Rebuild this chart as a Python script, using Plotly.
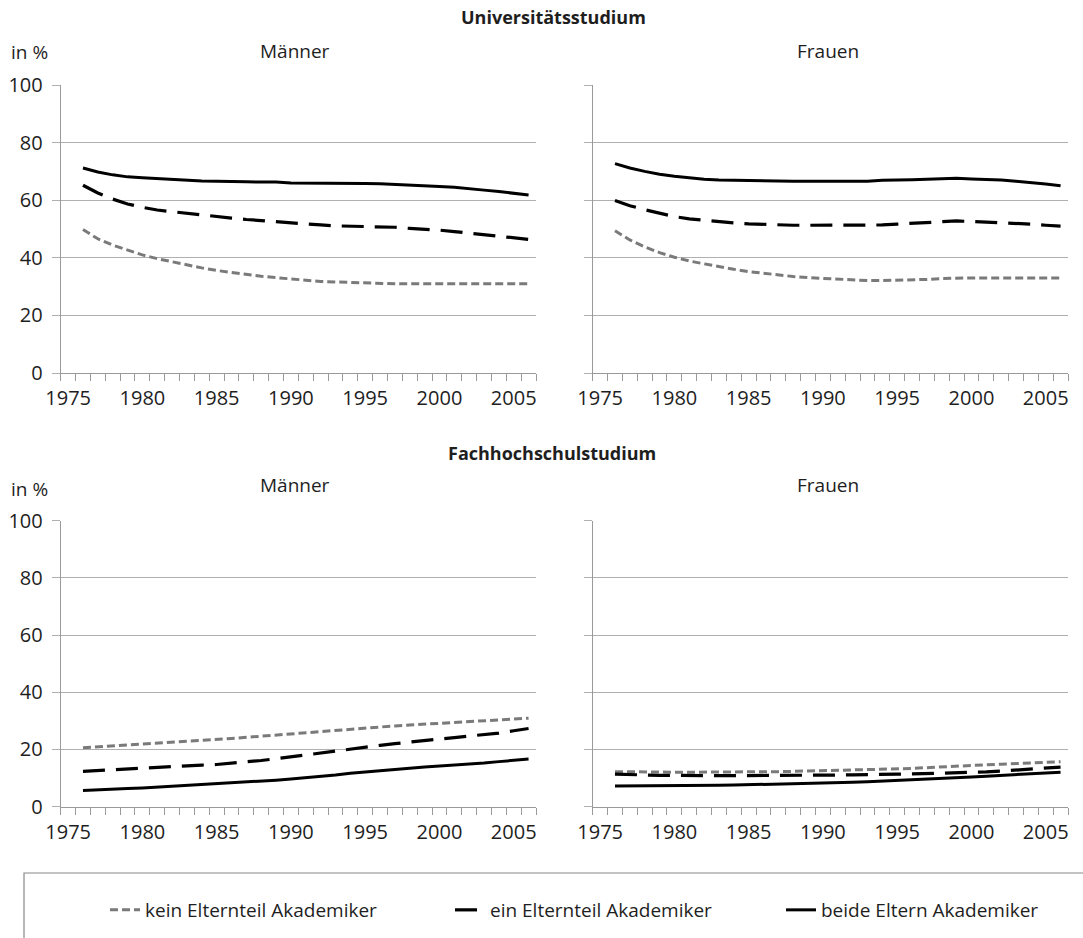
import plotly.graph_objects as go

years = list(range(1976, 2007))

series_names = ["kein Elternteil Akademiker", "ein Elternteil Akademiker", "beide Eltern Akademiker"]

uni_m_kein = [49.8, 46.6, 44.4, 42.6, 41.0, 39.7, 38.6, 37.5, 36.5, 35.6, 34.9, 34.2, 33.6, 33.1, 32.6, 32.2,
              31.8, 31.6, 31.4, 31.3, 31.1, 31.0, 31.0, 31.0, 31.0, 31.0, 31.0, 31.0, 31.0, 31.0, 31.0]
uni_m_ein = [65.2, 62.5, 60.4, 58.7, 57.5, 56.6, 56.0, 55.4, 54.8, 54.2, 53.8, 53.3, 52.9, 52.4, 52.0, 51.7,
             51.4, 51.1, 51.0, 50.9, 50.8, 50.6, 50.2, 50.0, 49.6, 49.1, 48.6, 48.0, 47.4, 46.9, 46.4]
uni_m_beide = [71.2, 69.8, 68.8, 68.1, 67.8, 67.5, 67.2, 67.0, 66.7, 66.6, 66.6, 66.4, 66.3, 66.3, 66.0, 66.0,
               66.0, 65.8, 65.8, 65.8, 65.7, 65.5, 65.4, 65.1, 64.8, 64.5, 64.1, 63.5, 63.0, 62.4, 61.8]

uni_f_kein = [49.4, 46.2, 43.8, 41.8, 40.2, 38.9, 37.9, 36.9, 36.0, 35.2, 34.6, 34.0, 33.5, 33.1, 32.8, 32.5,
              32.2, 32.1, 32.1, 32.2, 32.3, 32.5, 32.8, 33.0, 33.0, 33.0, 33.0, 33.0, 33.0, 33.0, 33.0]
uni_f_ein = [59.9, 58.1, 56.7, 55.4, 54.3, 53.5, 53.0, 52.5, 52.1, 51.8, 51.6, 51.4, 51.3, 51.3, 51.3, 51.3,
             51.3, 51.3, 51.4, 51.7, 52.0, 52.3, 52.6, 52.8, 52.6, 52.4, 52.2, 52.0, 51.7, 51.3, 51.0]
uni_f_beide = [72.7, 71.2, 70.0, 69.0, 68.3, 67.7, 67.3, 67.0, 66.9, 66.7, 66.6, 66.6, 66.6, 66.6, 66.6, 66.6,
               66.6, 66.6, 66.9, 66.9, 67.1, 67.3, 67.5, 67.6, 67.4, 67.3, 67.0, 66.6, 66.2, 65.6, 65.0]

fh_m_kein = [20.6, 20.9, 21.3, 21.7, 22.0, 22.3, 22.6, 22.9, 23.2, 23.5, 23.8, 24.2, 24.6, 25.1, 25.6, 26.0,
             26.3, 26.7, 27.2, 27.6, 27.9, 28.2, 28.5, 28.8, 29.2, 29.5, 29.8, 30.1, 30.4, 30.7, 30.9]
fh_m_ein = [12.3, 12.6, 12.9, 13.2, 13.5, 13.8, 14.1, 14.3, 14.5, 14.7, 15.1, 15.6, 16.1, 16.7, 17.4, 18.1,
            18.8, 19.5, 20.2, 20.8, 21.4, 22.0, 22.6, 23.1, 23.6, 24.1, 24.6, 25.1, 25.7, 26.5, 27.3]
fh_m_beide = [5.6, 5.9, 6.1, 6.3, 6.5, 6.8, 7.0, 7.3, 7.5, 7.8, 8.1, 8.4, 8.8, 9.2, 9.6, 10.0,
              10.5, 11.0, 11.6, 12.1, 12.6, 13.0, 13.4, 13.8, 14.1, 14.4, 14.8, 15.2, 15.7, 16.2, 16.6]

fh_f_kein = [12.2, 12.1, 12.0, 12.0, 12.0, 12.0, 12.0, 12.0, 12.0, 12.0, 12.1, 12.2, 12.3, 12.4, 12.5, 12.6,
             12.7, 12.8, 12.9, 13.0, 13.3, 13.6, 13.9, 14.1, 14.3, 14.6, 14.8, 15.0, 15.3, 15.5, 15.7]
fh_f_ein = [11.3, 11.1, 11.0, 10.9, 10.9, 10.8, 10.8, 10.8, 10.8, 10.8, 10.8, 10.8, 10.9, 10.9, 11.0, 11.0,
            11.1, 11.1, 11.2, 11.3, 11.4, 11.5, 11.6, 11.8, 11.9, 12.1, 12.4, 12.7, 13.1, 13.5, 13.8]
fh_f_beide = [7.2, 7.2, 7.2, 7.2, 7.2, 7.2, 7.3, 7.4, 7.5, 7.6, 7.7, 7.8, 7.9, 8.0, 8.2, 8.3,
              8.5, 8.7, 8.9, 9.1, 9.3, 9.5, 9.8, 10.0, 10.3, 10.6, 10.9, 11.2, 11.5, 11.8, 12.0]

x_tick_vals = [1975, 1980, 1985, 1990, 1995, 2000, 2005]
x_tick_text = ["1975", "1980", "1985", "1990", "1995", "2000", "2005"]
y_tick_vals = [0, 20, 40, 60, 80, 100]

W, H = 1083, 938
FONT = "Open Sans"
TXT = "#1e1e1e"
GRID = "#b0b0b0"
AXL = "#9a9a9a"

styles = [
    dict(color="#7a7a7a", width=3, dash="8px,4px"),
    dict(color="#000000", width=3.2, dash="22px,11px"),
    dict(color="#000000", width=3, dash="solid"),
]
legend_ids = ["legend", "legend2", "legend3"]
legend_text_x = [142, 487, 818]

panels = [
    ("x", "y", [uni_m_kein, uni_m_ein, uni_m_beide], (60.7, 536), (85, 373)),
    ("x2", "y2", [uni_f_kein, uni_f_ein, uni_f_beide], (592.7, 1068), (85, 373)),
    ("x3", "y3", [fh_m_kein, fh_m_ein, fh_m_beide], (60.7, 536), (520.7, 806.5)),
    ("x4", "y4", [fh_f_kein, fh_f_ein, fh_f_beide], (592.7, 1068), (520.7, 806.5)),
]

fig = go.Figure()
layout = {}
for pi, (xa, ya, data, xd, yd) in enumerate(panels):
    for si, vals in enumerate(data):
        fig.add_trace(go.Scatter(
            x=years, y=vals, mode="lines", name=series_names[si],
            line=styles[si], xaxis=xa, yaxis=ya, hoverinfo="skip",
            showlegend=(pi == 0), legend=legend_ids[si],
        ))
    xkey = "xaxis" if xa == "x" else "xaxis" + xa[1:]
    ykey = "yaxis" if ya == "y" else "yaxis" + ya[1:]
    layout[xkey] = dict(
        domain=[xd[0] / W, xd[1] / W], anchor=ya, range=[1974.5, 2006.5],
        tickmode="array", tickvals=x_tick_vals, ticktext=x_tick_text,
        ticks="outside", ticklen=7, tickcolor="rgba(0,0,0,0)",
        minor=dict(ticks="outside", tickmode="linear", tick0=1974.5, dtick=1,
                   ticklen=7, tickcolor=AXL, tickwidth=1, showgrid=False),
        showgrid=False, zeroline=False, showline=True, linecolor=AXL, linewidth=1,
        tickfont=dict(family=FONT, size=20, color=TXT), automargin=False, fixedrange=True,
    )
    layout[ykey] = dict(
        domain=[1 - yd[1] / H, 1 - yd[0] / H], anchor=xa, range=[0, 100],
        tickmode="array", tickvals=y_tick_vals,
        showticklabels=(pi in (0, 2)),
        ticks="outside", ticklen=8, tickcolor=GRID, tickwidth=1,
        ticklabelstandoff=5,
        showgrid=True, gridcolor=GRID, gridwidth=1,
        zeroline=False, showline=True, linecolor=AXL, linewidth=1,
        tickfont=dict(family=FONT, size=20, color=TXT), automargin=False, fixedrange=True,
    )

fig.update_layout(**layout)

def ann(text, xpx, ypx, size=18, bold=False, xanchor="center"):
    t = f"<b>{text}</b>" if bold else text
    return dict(text=t, x=xpx / W, y=1 - ypx / H, xref="paper", yref="paper",
                xanchor=xanchor, yanchor="middle", showarrow=False,
                font=dict(family=FONT, size=size, color=TXT))

annotations = [
    ann("Universitätsstudium", 553, 17, size=18, bold=True),
    ann("Männer", 295, 51, size=19),
    ann("Frauen", 828, 51, size=19),
    ann("in %", 9, 52, size=19, xanchor="left"),
    ann("Fachhochschulstudium", 552, 453, size=18, bold=True),
    ann("Männer", 295, 485, size=19),
    ann("Frauen", 828, 485, size=19),
    ann("in %", 9, 489, size=19, xanchor="left"),
]

legend_common = dict(orientation="h", y=1 - 910 / H, xanchor="left", yanchor="middle",
                     font=dict(family=FONT, size=19, color=TXT),
                     bgcolor="rgba(0,0,0,0)", borderwidth=0,
                     itemclick=False, itemdoubleclick=False)

fig.update_layout(
    width=W, height=H,
    margin=dict(l=0, r=0, t=0, b=0),
    paper_bgcolor="white", plot_bgcolor="white",
    hovermode=False,
    annotations=annotations,
    shapes=[dict(type="rect", xref="paper", yref="paper",
                 x0=24 / W, x1=1.02, y0=-0.02, y1=1 - 873 / H,
                 line=dict(color="#888888", width=1.2), fillcolor="rgba(0,0,0,0)")],
    legend=dict(x=(legend_text_x[0] - 37) / W, **legend_common),
    legend2=dict(x=(legend_text_x[1] - 37) / W, **legend_common),
    legend3=dict(x=(legend_text_x[2] - 37) / W, **legend_common),
    showlegend=True,
)

fig.write_html("out.html", config={"displayModeBar": False, "staticPlot": False},
               post_script="document.body.style.margin='0';document.body.style.overflow='hidden';")
